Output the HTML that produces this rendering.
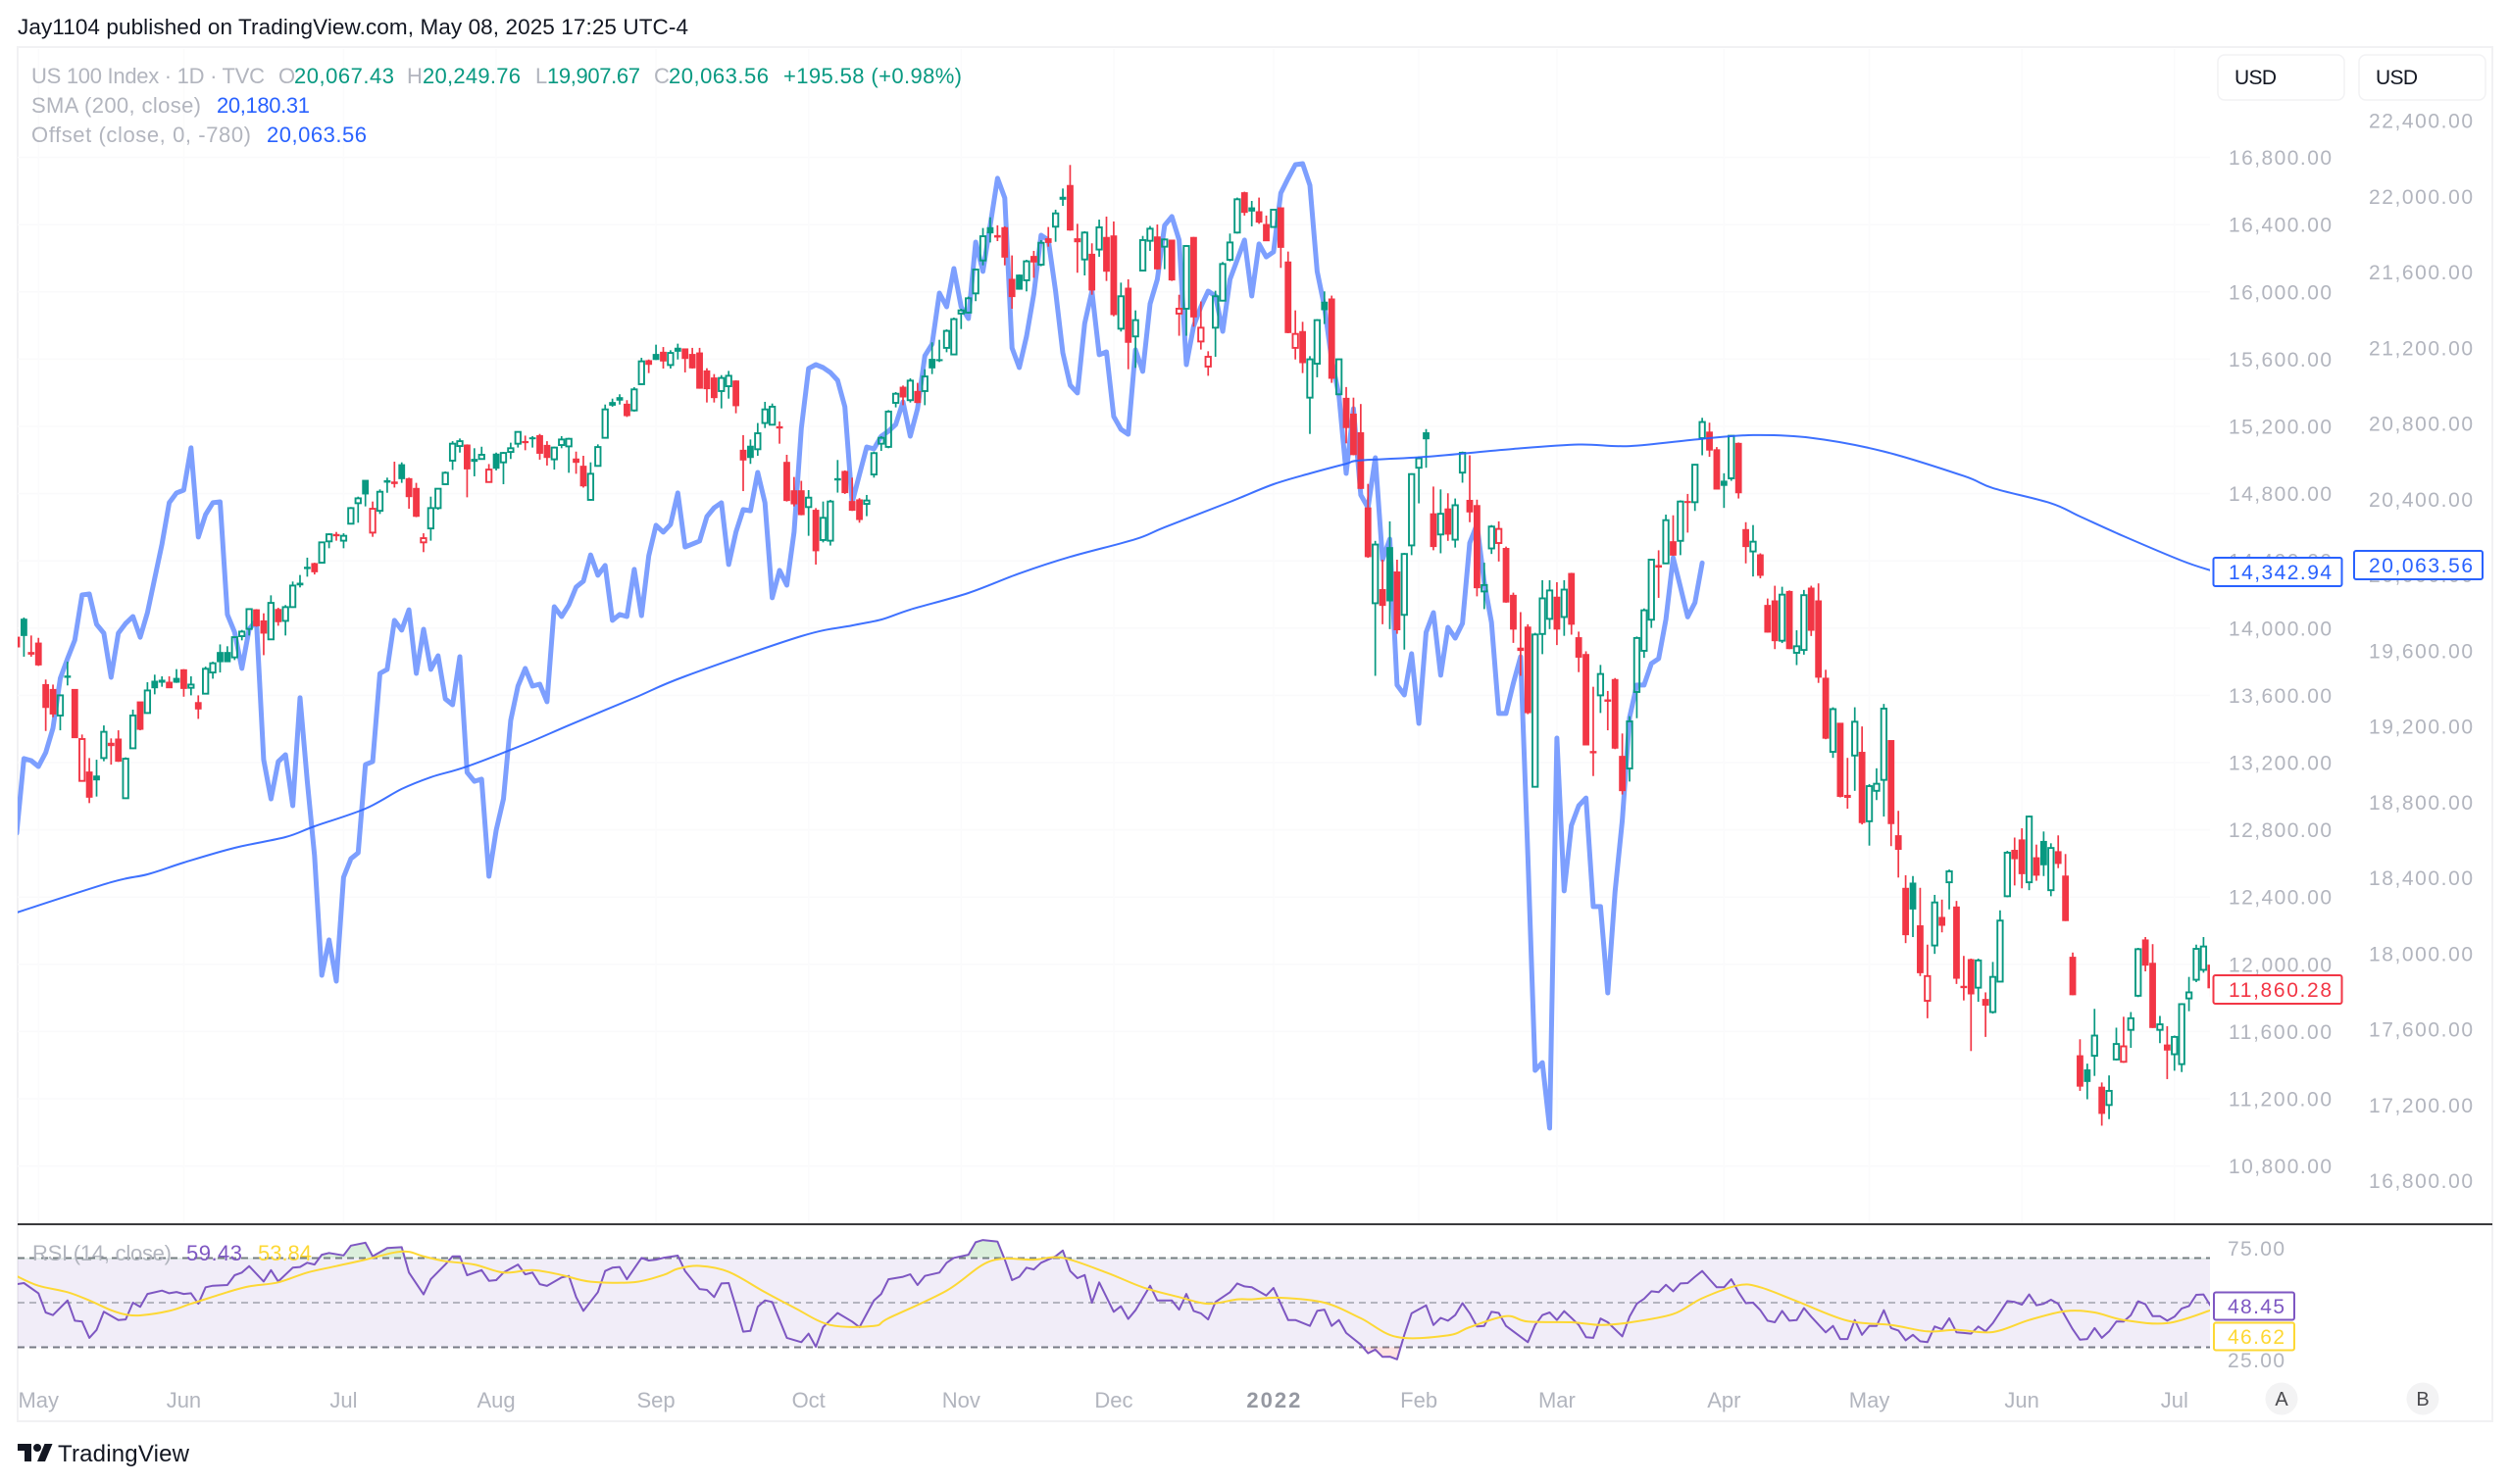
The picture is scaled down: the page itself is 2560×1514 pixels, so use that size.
<!DOCTYPE html>
<html lang="en">
<head>
<meta charset="utf-8">
<title>US 100 Index chart</title>
<style>
html,body{margin:0;padding:0;background:#fff;width:2560px;height:1514px;overflow:hidden}
svg{display:block}
text{font-family:"Liberation Sans",sans-serif}
</style>
</head>
<body>
<svg id="chart" xmlns="http://www.w3.org/2000/svg" width="2560" height="1514" viewBox="0 0 2560 1514">
  <defs>
    <clipPath id="plot-clip"><rect x="18" y="50" width="2236" height="1198"/></clipPath>
    <clipPath id="rsi-clip"><rect x="18" y="1251" width="2236" height="160"/></clipPath>
    <clipPath id="ob-clip"><rect x="18" y="1251" width="2236" height="33.5"/></clipPath>
    <clipPath id="os-clip"><rect x="18" y="1374.5" width="2236" height="40"/></clipPath>
    <linearGradient id="ob-grad" x1="0" y1="0" x2="0" y2="1"><stop offset="0" stop-color="#4caf50" stop-opacity="0.22"/><stop offset="1" stop-color="#4caf50" stop-opacity="0.02"/></linearGradient>
    <linearGradient id="os-grad" x1="0" y1="0" x2="0" y2="1"><stop offset="0" stop-color="#ff5252" stop-opacity="0.02"/><stop offset="1" stop-color="#ff5252" stop-opacity="0.18"/></linearGradient>
  </defs>

  <text x="18" y="35" font-size="22.5" fill="#131722" textLength="684">Jay1104 published on TradingView.com, May 08, 2025 17:25 UTC-4</text>

  <rect x="18" y="48" width="2524" height="1402" fill="none" stroke="#f1f1f3" stroke-width="2"/>
  <g id="grid"></g>
  <g id="offset-layer" clip-path="url(#plot-clip)"></g>
  <g id="candle-layer" clip-path="url(#plot-clip)"></g>
  <g id="sma-layer" clip-path="url(#plot-clip)"></g>

  <g font-size="22">
    <text x="32" y="85" fill="#b2b5be" textLength="238">US 100 Index · 1D · TVC</text>
    <text x="284" y="85" fill="#b2b5be">O</text>
    <text x="300" y="85" fill="#089981" textLength="102">20,067.43</text>
    <text x="415" y="85" fill="#b2b5be">H</text>
    <text x="431" y="85" fill="#089981" textLength="100">20,249.76</text>
    <text x="546" y="85" fill="#b2b5be">L</text>
    <text x="558" y="85" fill="#089981" textLength="95">19,907.67</text>
    <text x="667" y="85" fill="#b2b5be">C</text>
    <text x="682" y="85" fill="#089981" textLength="102">20,063.56</text>
    <text x="799" y="85" fill="#089981" textLength="182">+195.58 (+0.98%)</text>
    <text x="32" y="115" fill="#b2b5be" textLength="173">SMA (200, close)</text>
    <text x="221" y="115" fill="#2962ff" textLength="95">20,180.31</text>
    <text x="32" y="145" fill="#b2b5be" textLength="224">Offset (close, 0, -780)</text>
    <text x="272" y="145" fill="#2962ff" textLength="102">20,063.56</text>
  </g>

  <g>
    <rect x="2262" y="56" width="129" height="46" rx="7" fill="#fff" stroke="#f2f2f4" stroke-width="1.5"/>
    <text x="2279" y="86" font-size="21" fill="#131722" textLength="43">USD</text>
  </g>
  <g>
    <rect x="2406" y="56" width="129" height="46" rx="7" fill="#fff" stroke="#f2f2f4" stroke-width="1.5"/>
    <text x="2423" y="86" font-size="21" fill="#131722" textLength="43">USD</text>
  </g>

  <g id="left-axis"></g>
  <g id="right-axis"></g>

  <g>
    <rect x="2257.5" y="569" width="131" height="29" rx="2" fill="#fff" stroke="#2962ff" stroke-width="2"/>
    <text x="2273" y="591" font-size="21" fill="#2962ff" textLength="105">14,342.94</text>
  </g>
  <g>
    <rect x="2401" y="562" width="131" height="29" rx="2" fill="#fff" stroke="#2962ff" stroke-width="2"/>
    <text x="2416" y="584" font-size="21" fill="#2962ff" textLength="106">20,063.56</text>
  </g>
  <g>
    <rect x="2257.5" y="995" width="131" height="29" rx="2" fill="#fff" stroke="#f23645" stroke-width="2"/>
    <text x="2273" y="1017" font-size="21" fill="#f23645" textLength="105">11,860.28</text>
  </g>

  <line x1="18" y1="1249" x2="2542" y2="1249" stroke="#3a3a3c" stroke-width="2"/>

  <g id="rsi-layer"></g>
  <g font-size="22">
    <text x="33" y="1286" fill="#b2b5be" textLength="142">RSI (14, close)</text>
    <text x="190" y="1286" fill="#7e57c2" textLength="57">59.43</text>
    <text x="263" y="1286" fill="#fdd835" textLength="55">53.84</text>
  </g>
  <g font-size="21" fill="#b2b5be">
    <text x="2272" y="1281" textLength="58">75.00</text>
    <text x="2272" y="1395" textLength="58">25.00</text>
  </g>
  <g>
    <rect x="2258" y="1318.5" width="82" height="28" rx="2" fill="#fff" stroke="#7e57c2" stroke-width="2"/>
    <text x="2272" y="1340" font-size="21" fill="#7e57c2" textLength="58">48.45</text>
  </g>
  <g>
    <rect x="2258" y="1349.5" width="82" height="28" rx="2" fill="#fff" stroke="#fdd835" stroke-width="2"/>
    <text x="2272" y="1371" font-size="21" fill="#fdd835" textLength="58">46.62</text>
  </g>

  <g id="time-axis"></g>

  <g>
    <circle cx="2327" cy="1427" r="16.5" fill="#f3f3f4"/>
    <text x="2327" y="1434" font-size="20" fill="#4a4a4e" text-anchor="middle">A</text>
  </g>
  <g>
    <circle cx="2471" cy="1427" r="16.5" fill="#f3f3f4"/>
    <text x="2471" y="1434" font-size="20" fill="#4a4a4e" text-anchor="middle">B</text>
  </g>

  <g>
    <g transform="translate(18,1469)" fill="#131722">
      <path d="M14 22H7V11H0V4h14v18z"/>
      <path d="M28 22h-8l7.5-18h8L28 22z"/>
      <circle cx="20" cy="8" r="4"/>
    </g>
    <text x="59" y="1491" font-size="24" fill="#131722" textLength="134">TradingView</text>
  </g>
</svg>

<script>
const opens = [13946,14053,13855,13911,13664,13635,13480,13715,13635,13091,
13144,13120,13227,13315,13340,12988,13285,13561,13495,13684,
13690,13678,13701,13752,13645,13557,13610,13736,13855,13855,
13826,13952,13995,14109,14043,13933,14111,14043,14125,14267,
14362,14384,14389,14516,14557,14520,14621,14743,14879,14568,
14698,14877,14869,14972,14889,14831,14510,14593,14714,14856,
14996,15083,15089,15004,15006,14869,15035,14986,15048,15097,
15110,15132,15145,15087,15004,15089,15081,15006,14963,14763,
14965,15132,15342,15371,15332,15295,15451,15591,15628,15641,
15565,15665,15661,15628,15637,15530,15488,15410,15439,15470,
15058,15082,15064,15220,15210,15198,14986,14817,14817,14720,
14701,14524,14520,14889,14932,14753,14763,14739,14914,15097,
15078,15340,15433,15356,15408,15410,15599,15597,15667,15628,
15871,15877,15991,16187,16382,16335,16382,16075,16100,16069,
16211,16162,16316,16388,16563,16633,16316,16193,16224,16252,
16324,16333,15781,16022,15735,16127,16304,16327,16269,16308,
15871,15900,16324,15705,15556,15787,15948,16191,16353,16590,
16500,16477,16401,16386,16500,16178,15667,15764,15371,15573,
15939,15958,15391,15367,15273,15162,14715,14148,14229,14479,
14334,14079,14492,14954,15162,14680,14557,14709,14526,14925,
14760,14729,14218,14474,14506,14474,14195,13881,14006,13056,
13965,14055,14184,14066,14325,13943,13843,13266,13600,13573,
13694,13237,13165,13620,13865,14050,14372,14385,14514,14519,
14753,14749,15130,15166,15061,14874,14891,15099,14586,14456,
14436,14135,14162,13925,14218,13853,13870,14238,14162,13702,
13264,13434,13005,13242,13261,12851,13032,13097,13331,12765,
12452,12483,12229,11783,12112,12279,12488,12341,11869,12028,
11861,11791,11716,11897,12405,12678,12740,12488,12634,12731,
12441,12670,12525,12042,11456,11372,11456,11269,11163,11434,
11420,11610,11813,12145,12006,11610,11520,11465,11406,11797,
11908,11967,11995];

const highs = [13946,14063,13956,13942,13694,13664,13606,13800,13635,13367,
13227,13217,13421,13344,13392,13231,13515,13561,13678,13723,
13713,13713,13756,13756,13713,13600,13771,13800,13903,13892,
13950,13989,14117,14113,14088,14195,14121,14137,14277,14316,
14419,14389,14514,14564,14572,14564,14720,14782,14879,14753,
14825,14895,14990,14986,14895,14864,14564,14782,14829,14932,
15112,15128,15093,15070,15079,14976,15044,15048,15103,15171,
15145,15142,15155,15112,15079,15142,15132,15050,15025,14986,
15093,15330,15365,15391,15356,15433,15608,15598,15686,15672,
15653,15692,15661,15667,15667,15546,15511,15505,15530,15474,
15148,15122,15220,15346,15336,15229,15031,14899,14876,14821,
14714,14753,14763,15000,14938,14895,14773,14792,15050,15142,
15297,15404,15443,15486,15459,15540,15700,15715,15777,15847,
15900,15972,16139,16380,16444,16396,16390,16217,16104,16191,
16244,16308,16386,16489,16615,16755,16405,16361,16289,16430,
16448,16419,16055,16075,15890,16333,16392,16401,16318,16308,
15983,16279,16327,15943,15647,16007,16178,16347,16561,16596,
16541,16561,16454,16493,16502,16240,15890,15822,15618,15838,
16003,15978,15602,15434,15371,15333,14858,14519,14407,14635,
14407,14447,14921,15021,15184,14842,14825,14802,14771,15050,
15028,14764,14389,14613,14635,14485,14211,14095,14023,13972,
14285,14285,14273,14285,14329,13979,13862,13651,13781,13626,
13703,13373,13476,13950,14117,14412,14463,14675,14671,14760,
14798,14976,15251,15222,15077,14921,15148,15104,14630,14613,
14445,14176,14252,14246,14224,13987,14227,14252,14266,13752,
13529,13434,13228,13529,13415,13072,13166,13549,13331,12913,
12530,12525,12455,12117,12413,12385,12564,12377,12050,12034,
12034,11833,12014,12321,12675,12754,12809,12885,12712,12790,
12720,12767,12656,12070,11554,11409,11735,11297,11339,11623,
11688,11716,12098,12162,12120,11693,11632,11576,11769,11925,
12117,12162,12006];

const lows = [13888,13830,13830,13775,13388,13470,13392,13659,13348,13087,
12959,12998,13208,13188,13204,12984,13281,13392,13491,13606,
13651,13643,13674,13592,13600,13460,13606,13699,13736,13798,
13810,13927,13956,14008,13839,13931,14014,13956,14121,14242,
14306,14319,14385,14475,14520,14475,14617,14627,14724,14543,
14679,14805,14836,14864,14710,14660,14452,14520,14704,14852,
14941,15044,14778,14903,15002,14866,14938,14856,15006,15074,
15058,15074,15002,14967,14943,15070,14924,14918,14836,14759,
14961,15128,15317,15330,15256,15288,15447,15517,15595,15544,
15544,15598,15521,15544,15424,15342,15342,15307,15365,15278,
14815,14977,15025,15190,15206,15097,14753,14724,14671,14549,
14378,14510,14491,14806,14798,14697,14627,14666,14895,15054,
15070,15313,15326,15342,15338,15326,15511,15583,15641,15624,
15779,15871,15945,16158,16294,16302,16158,15900,16013,16003,
16084,16153,16269,16298,16512,16364,16114,16098,15983,16209,
16065,15855,15764,15540,15548,16123,16244,16133,16135,16065,
15739,15739,15793,15657,15501,15614,15943,16182,16347,16454,
16390,16405,16302,16382,16143,15754,15598,15517,15155,15492,
15809,15459,15385,15099,15028,14827,14418,13716,14023,13994,
13966,13872,14434,14742,14954,14463,14445,14519,14479,14865,
14630,14189,14113,14441,14396,14151,13912,13716,13488,13052,
13845,13994,13899,13954,13961,13738,13305,13120,13495,13392,
13280,13010,13087,13464,13823,14001,14180,14381,14430,14434,
14568,14697,15028,15019,14825,14715,14876,14771,14385,14307,
14296,13973,13875,13911,13875,13780,13842,13953,13674,13339,
13228,12993,12926,13032,12832,12706,12977,12879,12703,12516,
12126,12162,11930,11679,12062,12190,12327,11883,11785,11484,
11777,11568,11707,11894,12399,12469,12452,12441,12497,12525,
12405,12572,12257,11816,11247,11197,11336,11040,11079,11428,
11414,11503,11805,11958,11621,11531,11317,11367,11359,11721,
11894,11950,11805];

const closes = [13888,13956,13845,13781,13528,13489,13600,13707,13348,13340,
12994,13097,13383,13301,13208,13223,13480,13398,13629,13645,
13678,13645,13678,13641,13664,13519,13758,13791,13800,13800,
13946,13979,14113,14014,13970,14150,14038,14125,14253,14257,
14354,14335,14510,14558,14549,14549,14714,14772,14798,14710,
14811,14868,14860,14889,14782,14665,14535,14714,14829,14924,
15097,15112,14947,14992,15031,14943,14951,15042,15070,15167,
15103,15126,15040,15015,15074,15122,15126,14986,14846,14918,
15077,15301,15326,15356,15264,15420,15587,15569,15598,15589,
15637,15647,15604,15548,15427,15424,15371,15488,15501,15323,
15000,15015,15159,15301,15317,15190,14759,14739,14675,14776,
14460,14656,14753,14881,14806,14701,14646,14759,15041,15132,
15288,15394,15375,15472,15342,15497,15548,15591,15768,15838,
15890,15962,16133,16331,16351,16326,16207,15972,16016,16182,
16178,16292,16294,16467,16551,16368,16298,16353,16011,16384,
16123,15865,15974,15700,15832,16308,16376,16137,16312,16071,
15900,16273,15851,15787,15614,15974,16166,16294,16551,16473,
16481,16415,16304,16489,16265,15758,15750,15579,15599,15832,
15894,15486,15599,15193,15032,14831,14425,14497,14135,14162,
13990,14441,14916,15010,15126,14485,14680,14559,14731,15043,
14691,14240,14256,14604,14590,14155,13994,13867,13497,13962,
14177,14224,13994,14229,14023,13827,13305,13258,13727,13565,
13286,13033,13445,13941,14106,14407,14363,14642,14434,14753,
14747,14972,15226,15059,14827,14849,15144,14805,14485,14514,
14314,13976,13925,14199,13878,13892,14196,13987,13708,13345,
13518,12999,12993,13443,12843,13060,13074,13521,12837,12684,
12176,12329,11950,11930,12368,12232,12553,11917,11861,11824,
12023,11757,11925,12260,12664,12628,12539,12879,12530,12592,
12692,12600,12260,11819,11275,11303,11576,11113,11247,11526,
11512,11679,12090,11995,11624,11643,11490,11568,11763,11833,
12092,12106,11860];

const barColors = ("rgrrrrggrr"+"rggrrggrgg"+"grgrgrgggg"+"gggrrgrggg"+"grggrggggr"+
"ggrgrrrggg"+"ggrggrgggg"+"rgrrgggrrg"+"ggggrggrgr"+"ggrrrrrggr"+
"rggggrrrrg"+"rgggrrrggg"+"ggrgrggggg"+"gggggrrrgg"+"rgrggrrgrg"+
"rrgrgggrgr"+"rgrrrggggr"+"grrgrrrrgg"+"grgrrrrgrg"+"rggggrgrgg"+
"rrggrrrrrg"+"ggrgrrrrgr"+"rrggggrgrg"+"rggrrggrrg"+"rrrgrggrrr"+
"grrgrgggrr"+"rgrrgrgrrr"+"grgggrrgrg"+"grrrrggrgg"+"rggrrgrggg"+"ggr").split("");

const offsetCloses = [18636,19030,19019,18988,19061,19190,19454,19558,19656,19894,19899,19739,19692,19459,19692,19744,19780,19671,19801,19982,20163,20381,20433,20448,20671,20200,20319,20381,20386,19791,19697,19506,19713,19760,19024,18817,19014,19050,18781,19351,18910,18517,17885,18072,17854,18403,18501,18532,18998,19014,19480,19501,19760,19708,19816,19480,19713,19501,19573,19345,19314,19568,18957,18910,18921,18408,18652,18817,19232,19413,19506,19413,19423,19330,19832,19780,19842,19936,19967,20106,19998,20050,19760,19791,19780,20029,19785,20101,20262,20226,20267,20433,20148,20163,20179,20308,20355,20381,20055,20226,20345,20339,20541,20381,19879,20024,19946,20226,20774,21090,21111,21095,21069,21028,20888,20381,20531,20676,20666,20733,20759,20795,20914,20733,20878,21158,21220,21489,21416,21618,21416,21354,21758,21603,21846,22095,21991,21199,21095,21261,21484,21794,21769,21499,21173,21002,20961,21328,21499,21163,21178,20837,20769,20743,21189,21075,21432,21561,21846,21893,21769,21111,21313,21416,21499,21473,21287,21561,21665,21769,21473,21748,21680,21706,22017,22095,22167,22172,22058,21603,21416,21137,20950,20536,20878,20422,20355,20619,20081,20189,19418,19366,19584,19216,19697,19801,19470,19723,19666,19744,20169,20267,19961,19749,19268,19268,19428,19568,18517,17383,17424,17078,19138,18331,18677,18781,18822,18248,18248,17792,18325,18703,19247,19418,19418,19532,19558,19765,20091,19936,19778,19853,20063.56];

const smaBars = [0,13,18,23,30,37,41,48,53,57,62,70,76,85,92,108,115,119,123,131,138,145,154,158,167,173,178,183,185,194,206,215,222,232,239,247,257,268,272,280,284,290,298,302];
const smaValues = [12308,12488,12535,12605,12693,12757,12821,12926,13043,13113,13177,13311,13422,13585,13713,13952,14016,14051,14110,14209,14325,14424,14529,14600,14751,14856,14920,14978,14998,15019,15066,15092,15083,15126,15148,15132,15051,14905,14833,14743,14664,14547,14401,14342.94];

const rsiBars = [0,1,3,4,5,7,8,9,10,11,12,14,15,16,17,18,20,21,22,23,24,25,26,27,29,30,31,32,34,35,36,38,39,40,41,42,43,45,46,48,49,51,53,54,56,57,59,60,61,62,64,65,66,67,69,70,71,72,73,75,76,77,78,80,81,82,83,84,86,87,88,89,91,92,94,95,96,97,98,99,100,101,102,103,104,106,108,109,110,111,113,115,116,118,119,120,122,123,124,125,127,128,129,131,132,133,135,136,137,138,139,140,141,143,144,145,146,147,148,149,151,152,153,154,156,157,159,160,161,162,163,164,165,167,168,169,170,172,173,175,176,178,179,180,181,182,183,185,186,187,188,189,190,191,192,194,195,196,197,198,199,200,201,202,203,204,205,206,208,209,210,211,212,213,214,215,216,217,218,219,221,222,223,224,225,226,227,228,229,230,231,232,233,234,235,236,237,238,239,240,241,242,243,244,245,246,247,249,250,251,252,253,254,255,256,257,258,259,260,261,262,263,264,265,266,267,268,269,270,271,272,274,275,276,277,278,279,280,281,282,283,284,285,286,287,288,289,290,291,292,293,294,295,296,297,298,299,300,301,302];
const rsiValues = [58.3,58.8,54.2,45.6,44.4,51.0,41.9,41.5,34.2,37.8,45.9,42.2,42.5,50.0,48.1,53.9,55.4,54.2,54.8,53.9,54.2,49.5,56.9,57.6,57.9,62.3,63.5,66.4,59.5,64.6,59.5,65.7,66.0,67.9,67.1,71.5,72.3,71.2,75.6,76.9,70.8,74.5,74.9,63.5,53.7,60.5,67.1,70.8,70.8,62.3,64.6,59.8,60.1,63.5,67.1,62.7,63.5,58.3,57.5,61.3,62.0,52.5,46.3,54.7,64.2,65.7,66.0,60.5,70.1,68.9,69.3,70.1,71.1,64.2,56.1,55.7,52.5,58.6,58.8,48.1,37.0,37.4,48.1,51.0,50.3,34.2,32.3,36.1,30.2,39.0,45.4,41.5,39.0,51.0,53.9,60.5,61.6,62.7,57.9,62.0,63.5,67.9,70.1,71.5,77.1,78.1,77.4,69.3,60.1,61.6,65.7,64.9,67.9,70.8,73.4,64.2,61.0,62.4,50.0,59.1,45.9,48.4,42.7,46.6,57.6,51.0,51.0,46.9,53.9,46.3,45.2,42.5,50.3,54.7,58.6,57.3,56.9,53.2,56.6,42.2,42.2,39.6,46.3,46.9,39.6,42.2,36.4,31.2,27.3,29.0,25.7,25.8,24.6,35.6,45.2,48.8,40.0,43.2,41.9,44.4,49.8,45.2,39.3,39.6,45.9,45.4,39.6,37.1,32.3,40.0,44.4,45.6,42.2,46.2,43.2,40.0,34.5,34.2,42.9,41.2,34.9,43.7,49.5,51.7,55.1,54.7,58.0,55.1,58.6,58.8,61.6,64.2,60.5,56.9,56.9,60.5,54.7,49.8,50.0,46.6,41.9,41.2,46.3,41.9,42.2,47.6,43.7,36.7,39.6,33.7,33.7,42.2,35.6,39.6,39.6,46.6,38.6,37.5,33.1,35.6,32.7,32.3,39.3,38.1,43.0,36.7,36.4,36.1,39.3,37.1,40.8,50.7,50.3,49.1,53.7,48.8,49.5,51.3,49.5,43.7,38.1,33.4,33.7,38.6,34.2,37.1,41.5,41.5,44.4,50.6,49.3,44.0,44.0,41.9,43.7,47.4,48.5,53.5,53.7,48.45];

const rsiMaBars = [0,3,7,10,13,15,17,21,24,29,32,36,40,44,48,52,54,56,59,63,67,71,75,79,85,89,91,94,98,103,107,112,118,120,128,134,140,144,150,155,160,164,168,170,174,180,185,190,197,200,205,208,214,218,222,228,232,237,240,245,252,258,263,267,272,277,282,286,290,296,302];
const rsiMaValues = [61.9,57.6,54.7,51.0,46.6,44.7,44.3,46.3,49.5,54.7,57.3,59.1,63.5,66.4,69.3,72.5,72.8,70.8,68.6,67.1,63.5,64.6,62.4,59.4,59.2,62.4,65.2,66.5,63.8,54.7,47.8,40.0,39.6,43.0,55.4,68.6,69.3,70.1,63.5,56.9,52.5,49.5,51.5,51.5,52.2,50.0,43.0,34.6,35.3,39.0,44.0,41.5,41.2,40.0,41.1,44.9,52.0,57.8,56.9,50.7,41.9,40.0,37.1,37.8,36.8,42.2,46.2,45.6,42.2,40.8,46.62];

const leftTickLabels = ["16,800.00","16,400.00","16,000.00","15,600.00","15,200.00","14,800.00","14,400.00","14,000.00","13,600.00","13,200.00","12,800.00","12,400.00","12,000.00","11,600.00","11,200.00","10,800.00"];
const rightTickLabels = ["22,400.00","22,000.00","21,600.00","21,200.00","20,800.00","20,400.00","20,000.00","19,600.00","19,200.00","18,800.00","18,400.00","18,000.00","17,600.00","17,200.00","16,800.00"];
const monthLabels = ["May","Jun","Jul","Aug","Sep","Oct","Nov","Dec","2022","Feb","Mar","Apr","May","Jun","Jul"];
const monthBars = [3,23,45,66,88,109,130,151,173,193,212,235,255,276,297];
const rsiBandLevels = [70,50,30];

const SVG_NS = "http://www.w3.org/2000/svg";
const GREEN = "#089981";
const RED = "#f23645";

function xBar(i){ return 17 + 7.41 * i; }
function yLeft(p){ return 160.6 + (16800 - p) * 0.1715; }
function yRight(p){ return 123 + (22400 - p) * 0.19314; }
function yRsi(v){ return 1329 - (v - 50) * 2.275; }
function tickValue(label){ return Number(label.replace(/,/g, "")); }

function mk(tag, attrs, parent){
  const el = document.createElementNS(SVG_NS, tag);
  for (const k in attrs) el.setAttribute(k, attrs[k]);
  if (parent) parent.appendChild(el);
  return el;
}
function linePath(bars, values, yFn){
  let d = "";
  for (let n = 0; n < values.length; n++){
    d += (n ? "L" : "M") + xBar(bars ? bars[n] : n).toFixed(1) + " " + yFn(values[n]).toFixed(1);
  }
  return d;
}
/* moving averages are smooth: pass a Catmull-Rom curve through the read values */
function smoothPath(bars, values, yFn){
  const px = bars.map(xBar);
  const py = values.map(yFn);
  let d = "M" + px[0].toFixed(1) + " " + py[0].toFixed(1);
  for (let n = 0; n < px.length - 1; n++){
    const a = Math.max(n - 1, 0), b = Math.min(n + 2, px.length - 1);
    const c1x = px[n] + (px[n+1] - px[a]) / 6;
    const c1y = py[n] + (py[n+1] - py[a]) / 6;
    const c2x = px[n+1] - (px[b] - px[n]) / 6;
    const c2y = py[n+1] - (py[b] - py[n]) / 6;
    d += "C" + c1x.toFixed(1) + " " + c1y.toFixed(1) + " " + c2x.toFixed(1) + " " + c2y.toFixed(1) + " " + px[n+1].toFixed(1) + " " + py[n+1].toFixed(1);
  }
  return d;
}

/* grid */
const gridLayer = document.getElementById("grid");
leftTickLabels.forEach(function(label){
  const y = yLeft(tickValue(label));
  const gl = mk("line", {x1:18, x2:2254, y1:y, y2:y, stroke:"#fafafb", "stroke-width":1.5}, gridLayer);
  
  
});
monthBars.forEach(function(b){
  const x = xBar(b);
  const gl = mk("line", {x1:x, x2:x, y1:50, y2:1248, stroke:"#fbfbfc", "stroke-width":1.5}, gridLayer);
  
  
});

/* offset line */
const offsetLine = mk("path", {d:linePath(null, offsetCloses, yRight), fill:"none", stroke:"#7d9ffe", "stroke-width":5, "stroke-linejoin":"round", "stroke-linecap":"round"}, document.getElementById("offset-layer"));



/* candles */
const candleLayer = document.getElementById("candle-layer");
for (let i = 0; i < closes.length; i++){
  const color = barColors[i] === "g" ? GREEN : RED;
  const x = xBar(i);
  const top = yLeft(Math.max(opens[i], closes[i]));
  const bot = yLeft(Math.min(opens[i], closes[i]));
  const g = mk("g", {}, candleLayer);
  
  
  const upperWick = mk("line", {x1:x, x2:x, y1:yLeft(highs[i]), y2:top, stroke:color, "stroke-width":1.7}, g);
  
  
  const lowerWick = mk("line", {x1:x, x2:x, y1:bot, y2:yLeft(lows[i]), stroke:color, "stroke-width":1.7}, g);
  
  
  let body;
  if (closes[i] > opens[i]){
    body = mk("rect", {x:x-2.7, y:top, width:5.4, height:Math.max(bot-top,1), fill:"none", stroke:color, "stroke-width":1.9}, g);
  } else {
    body = mk("rect", {x:x-3.4, y:top-0.5, width:6.8, height:Math.max(bot-top,1)+1, fill:color}, g);
  }
  
  
}

/* SMA line */
const smaLine = mk("path", {d:smoothPath(smaBars, smaValues, yLeft), fill:"none", stroke:"#2962ff", "stroke-opacity":0.9, "stroke-width":2, "stroke-linejoin":"round"}, document.getElementById("sma-layer"));



/* price axes */
const leftAxis = document.getElementById("left-axis");
leftTickLabels.forEach(function(label){
  const t = mk("text", {x:2273, y:yLeft(tickValue(label))+7.5, "font-size":21, fill:"#b2b5be", textLength:105}, leftAxis);
  t.textContent = label;
  
  
});
const rightAxis = document.getElementById("right-axis");
rightTickLabels.forEach(function(label){
  const t = mk("text", {x:2416, y:yRight(tickValue(label))+7.5, "font-size":21, fill:"#b2b5be", textLength:106}, rightAxis);
  t.textContent = label;
  
  
});

/* RSI pane */
const rsiLayer = document.getElementById("rsi-layer");
const band = mk("rect", {x:18, y:yRsi(rsiBandLevels[0]), width:2236, height:yRsi(rsiBandLevels[2])-yRsi(rsiBandLevels[0]), fill:"#7e57c2", "fill-opacity":0.11}, rsiLayer);


rsiBandLevels.forEach(function(level, n){
  const y = yRsi(level);
  const l = mk("line", {x1:18, x2:2254, y1:y, y2:y, stroke:"#787b86", "stroke-opacity":n === 1 ? 0.5 : 1, "stroke-width":2, "stroke-dasharray":"7 5"}, rsiLayer);
  
  
});
const rsiD = linePath(rsiBars, rsiValues, yRsi);
const lastX = xBar(rsiBars[rsiBars.length-1]).toFixed(1);
const firstX = xBar(rsiBars[0]).toFixed(1);
const obFill = mk("path", {d:rsiD+"L"+lastX+" "+yRsi(70)+"L"+firstX+" "+yRsi(70)+"Z", fill:"url(#ob-grad)", "clip-path":"url(#ob-clip)"}, rsiLayer);


const osFill = mk("path", {d:rsiD+"L"+lastX+" "+yRsi(30)+"L"+firstX+" "+yRsi(30)+"Z", fill:"url(#os-grad)", "clip-path":"url(#os-clip)"}, rsiLayer);


const rsiLine = mk("path", {d:rsiD, fill:"none", stroke:"#7e57c2", "stroke-width":2, "stroke-linejoin":"round", "clip-path":"url(#rsi-clip)"}, rsiLayer);


const rsiMaLine = mk("path", {d:smoothPath(rsiMaBars, rsiMaValues, yRsi), fill:"none", stroke:"#fdd835", "stroke-width":2, "stroke-linejoin":"round", "clip-path":"url(#rsi-clip)"}, rsiLayer);



/* time axis */
const timeAxis = document.getElementById("time-axis");
monthLabels.forEach(function(label, n){
  const isYear = /^\d+$/.test(label);
  const attrs = {x:xBar(monthBars[n]), y:1436, "font-size":22, "text-anchor":"middle", fill:isYear ? "#9598a1" : "#b2b5be"};
  if (isYear){ attrs["font-weight"] = "bold"; attrs.textLength = 55; }
  const t = mk("text", attrs, timeAxis);
  t.textContent = label;
  
  
});
</script>
</body>
</html>
